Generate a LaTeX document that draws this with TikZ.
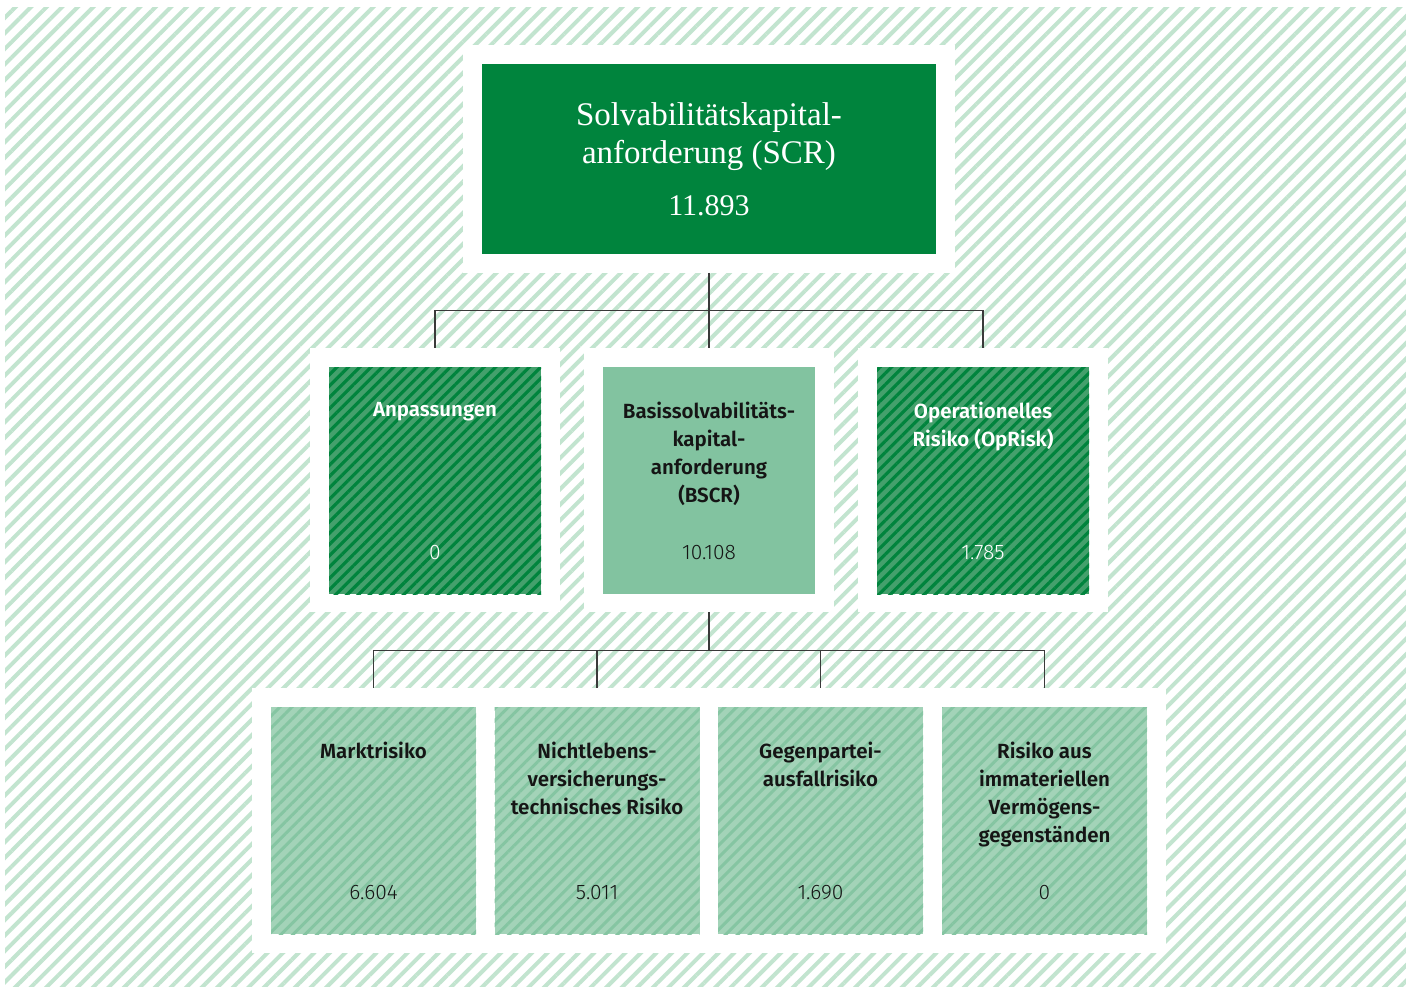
\documentclass[tikz,border=0pt]{standalone}
\usepackage{fontspec}
\setmainfont{Fira Sans}[BoldFont={Fira Sans SemiBold}]
\newfontfamily\lightf{Fira Sans Light}
\newfontfamily\serifx{Liberation Serif}
\usetikzlibrary{patterns.meta}
\definecolor{dkgreen}{HTML}{00843D}
\definecolor{midgreen}{HTML}{44A06C}
\definecolor{bscrgreen}{HTML}{82C3A0}
\definecolor{ltgreen}{HTML}{A3D3B8}
\definecolor{ltstripe}{HTML}{85C5A2}
\definecolor{bgstripe}{HTML}{C2E4CF}
\definecolor{linegray}{HTML}{3A3A3A}
\definecolor{txtdark}{HTML}{151515}
\begin{document}
\begin{tikzpicture}[x=1pt,y=-1pt,
  frame/.style={fill=white,draw=none,inner sep=0pt,outer sep=0pt,anchor=center},
  topbox/.style={fill=dkgreen,draw=none,inner sep=0pt,outer sep=0pt,minimum width=454pt,minimum height=190pt,anchor=center},
  darkbox/.style={fill=midgreen,draw=none,inner sep=0pt,outer sep=0pt,minimum width=212pt,minimum height=227pt,anchor=center,
    postaction={pattern={Lines[angle=45,distance=8pt,line width=3.2pt]},pattern color=dkgreen}},
  bscrbox/.style={fill=bscrgreen,draw=none,inner sep=0pt,outer sep=0pt,minimum width=212pt,minimum height=227pt,anchor=center},
  lightbox/.style={fill=ltgreen,draw=none,inner sep=0pt,outer sep=0pt,minimum width=205pt,minimum height=227pt,anchor=center,
    postaction={pattern={Lines[angle=45,distance=8.5pt,line width=3pt]},pattern color=ltstripe}},
  ttl/.style={align=center,inner sep=0pt,anchor=north,font=\bfseries\fontsize{20.5}{28}\selectfont},
  val/.style={inner sep=0pt,anchor=center,font=\lightf\fontsize{21}{24}\selectfont},
  conn/.style={draw=linegray,line width=1.3pt}
]
\useasboundingbox (0,0) rectangle (1406,987);
\fill[white] (0,0) rectangle (1406,987);
\path[pattern={Lines[angle=45,distance=11pt,line width=4pt]},pattern color=bgstripe] (5,8) rectangle (1406,987);

% frames
\node[frame,minimum width=492pt,minimum height=228pt] (topF) at (709,159) {};
\node[frame,minimum width=250pt,minimum height=264pt] (anpF) at (435,480) {};
\node[frame,minimum width=250pt,minimum height=264pt] (bscrF) at (709,480) {};
\node[frame,minimum width=250pt,minimum height=264pt] (opF) at (983,480) {};
\node[frame,minimum width=914pt,minimum height=265pt] (botF) at (709,820.5) {};

% boxes
\node[topbox] (scr) at (709,159) {};
\node[darkbox] (anp) at (435,480.5) {};
\node[bscrbox] (bscr) at (709,480.5) {};
\node[darkbox] (op) at (983,480.5) {};
\node[lightbox] (mkt) at (373.5,820.5) {};
\node[lightbox] (nl) at (597,820.5) {};
\node[lightbox] (gp) at (820.5,820.5) {};
\node[lightbox] (imm) at (1044.5,820.5) {};

% texts
\node[align=center,inner sep=0pt,anchor=center,text=white,font=\serifx\fontsize{33}{38}\selectfont] (scrT) at (709,137) {Solvabilitätskapital-\\anforderung (SCR)};
\node[inner sep=0pt,anchor=center,text=white,font=\serifx\fontsize{30}{38}\selectfont] (scrV) at (709,206) {11.893};

\node[ttl,text=white] (anpT) at (435,402) {Anpassungen};
\node[val,text=white] (anpV) at (435,552.5) {0};
\node[ttl,text=txtdark] (bscrT) at (709,402) {Basissolvabilitäts-\\kapital-\\anforderung\\(BSCR)};
\node[val,text=txtdark] (bscrV) at (709,552.5) {10.108};
\node[ttl,text=white] (opT) at (983,402) {Operationelles\\Risiko (OpRisk)};
\node[val,text=white] (opV) at (983,552.5) {1.785};

\node[ttl,text=txtdark] (mktT) at (373.5,742) {Marktrisiko};
\node[val,text=txtdark] (mktV) at (373.5,892.5) {6.604};
\node[ttl,text=txtdark] (nlT) at (597,742) {Nichtlebens-\\versicherungs-\\technisches Risiko};
\node[val,text=txtdark] (nlV) at (597,892.5) {5.011};
\node[ttl,text=txtdark] (gpT) at (820.5,742) {Gegenpartei-\\ausfallrisiko};
\node[val,text=txtdark] (gpV) at (820.5,892.5) {1.690};
\node[ttl,text=txtdark] (immT) at (1044.5,742) {Risiko aus\\immateriellen\\Vermögens-\\gegenständen};
\node[val,text=txtdark] (immV) at (1044.5,892.5) {0};

% connectors
\coordinate (j1) at (709,310.5);
\coordinate (j2) at (709,650.5);
\draw[conn] (topF.south) -- (j1);
\draw[conn] (j1) -| (anpF.north);
\draw[conn] (j1) -| (opF.north);
\draw[conn] (j1) -- (bscrF.north);
\draw[conn] (bscrF.south) -- (j2);
\draw[conn] (j2) -| (mkt.north |- botF.north);
\draw[conn] (j2) -| (nl.north |- botF.north);
\draw[conn] (j2) -| (gp.north |- botF.north);
\draw[conn] (j2) -| (imm.north |- botF.north);
\end{tikzpicture}
\end{document}
